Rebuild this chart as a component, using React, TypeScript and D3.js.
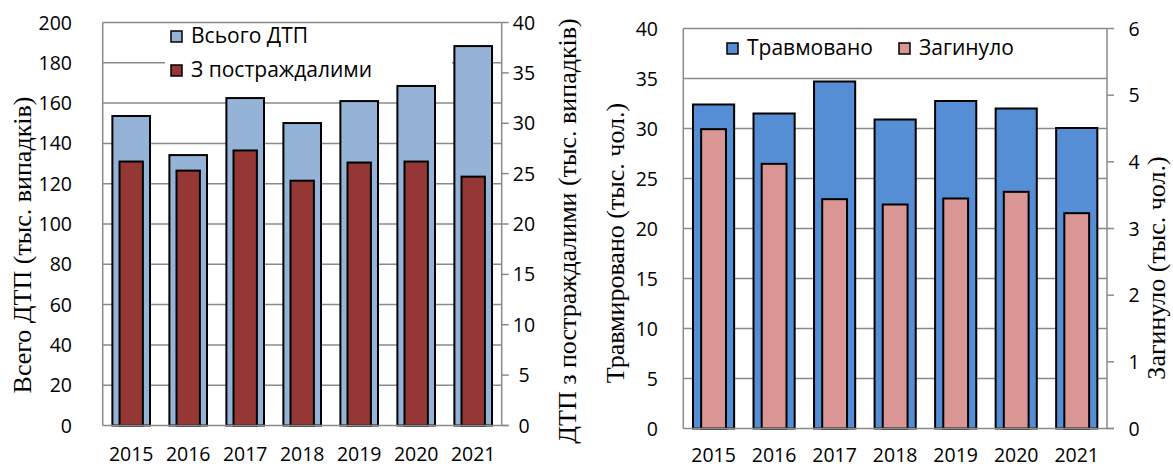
import React from "react";
import * as d3 from "d3";

const years = ["2015", "2016", "2017", "2018", "2019", "2020", "2021"];
const totalDtp = [153.6, 134.2, 162.5, 150.1, 161.0, 168.5, 188.3];
const withVictims = [26.2, 25.3, 27.3, 24.3, 26.1, 26.2, 24.7];
const injured = [32.4, 31.5, 34.7, 30.9, 32.75, 32.0, 30.05];
const killed = [4.49, 3.97, 3.44, 3.36, 3.45, 3.55, 3.23];

const leftTicksA = [0, 20, 40, 60, 80, 100, 120, 140, 160, 180, 200];
const rightTicksA = [0, 5, 10, 15, 20, 25, 30, 35, 40];
const leftTicksB = [0, 5, 10, 15, 20, 25, 30, 35, 40];
const rightTicksB = [0, 1, 2, 3, 4, 5, 6];

const legendA = ["Всього ДТП", "З постраждалими"];
const legendB = ["Травмовано", "Загинуло"];
const titlesA = ["Всего  ДТП (тыс. випадків)", "ДТП з постраждалими (тыс. випадків)"];
const titlesB = ["Травмировано (тыс. чол.)", "Загинуло (тыс. чол.)"];

const SANS = "'Open Sans', sans-serif";
const SERIF = "'Liberation Serif', 'Times New Roman', serif";
const GRID = "#8a8a8a";
const FS = 19.5;
const LFS = 21;
const TFS = 26;

type PanelProps = {
  x0: number; x1: number; yTop: number; yBot: number;
  leftMax: number; rightMax: number;
  leftTicks: number[]; rightTicks: number[];
  back: number[]; front: number[];
  backColor: string; frontColor: string;
  backW: number; frontW: number;
  leftLabelX: number; rightLabelX: number; xLabelY: number;
  titles: string[]; titlePos: number[][];
  legendBg?: number[];
};

function Panel(p: PanelProps) {
  const xs = d3.scaleBand<string>().domain(years).range([p.x0, p.x1]).padding(0);
  const yl = d3.scaleLinear().domain([0, p.leftMax]).range([p.yBot, p.yTop]);
  const yr = d3.scaleLinear().domain([0, p.rightMax]).range([p.yBot, p.yTop]);
  const bw = xs.bandwidth();
  return (
    <g>
      {p.leftTicks.filter((t) => t > 0).map((t) => (
        <line key={"g" + t} x1={p.x0} x2={p.x1} y1={yl(t)} y2={yl(t)} stroke={GRID} strokeWidth={1.5} />
      ))}
      {p.legendBg && (
        <rect x={p.legendBg[0]} y={p.legendBg[1]} width={p.legendBg[2]} height={p.legendBg[3]} fill="#fff" />
      )}
      <line x1={p.x0} x2={p.x0} y1={p.yTop} y2={p.yBot} stroke={GRID} strokeWidth={1.5} />
      <line x1={p.x1} x2={p.x1} y1={p.yTop} y2={p.yBot} stroke={GRID} strokeWidth={1.5} />
      {p.rightTicks.map((t) => (
        <line key={"rt" + t} x1={p.x1} x2={p.x1 + 7} y1={yr(t)} y2={yr(t)} stroke={GRID} strokeWidth={1.5} />
      ))}
      {years.map((y, i) => {
        const c = (xs(y) as number) + bw / 2;
        const w1 = bw * p.backW;
        const w2 = bw * p.frontW;
        return (
          <g key={y}>
            <rect x={c - w1 / 2} y={yl(p.back[i])} width={w1} height={p.yBot - yl(p.back[i])}
              fill={p.backColor} stroke="#000" strokeWidth={2} />
            <rect x={c - w2 / 2} y={yr(p.front[i])} width={w2} height={p.yBot - yr(p.front[i])}
              fill={p.frontColor} stroke="#000" strokeWidth={2} />
          </g>
        );
      })}
      <line x1={p.x0} x2={p.x1 + 7} y1={p.yBot} y2={p.yBot} stroke={GRID} strokeWidth={1.5} />
      {p.leftTicks.map((t) => (
        <text key={"ll" + t} x={p.leftLabelX} y={yl(t)} dy="0.36em" textAnchor="end"
          fontFamily={SANS} fontSize={FS} fill="#000">{t}</text>
      ))}
      {p.rightTicks.map((t) => (
        <text key={"rl" + t} x={p.rightLabelX} y={yr(t)} dy="0.36em" textAnchor="middle"
          fontFamily={SANS} fontSize={FS} fill="#000">{t}</text>
      ))}
      {years.map((y) => (
        <text key={"xl" + y} x={(xs(y) as number) + bw / 2} y={p.xLabelY} textAnchor="middle"
          fontFamily={SANS} fontSize={FS} fill="#000">{y}</text>
      ))}
      {p.titles.map((t, i) => (
        <text key={"t" + i} transform={`translate(${p.titlePos[i][0]},${p.titlePos[i][1]}) rotate(-90)`}
          dy="0.33em" textAnchor="middle" fontFamily={SERIF} fontSize={TFS} fill="#000">{t}</text>
      ))}
    </g>
  );
}

function LegendItem({ x, y, color, label }: { x: number; y: number; color: string; label: string }) {
  return (
    <g>
      <rect x={x} y={y - 12} width={11} height={11} fill={color} stroke="#000" strokeWidth={1.5} />
      <text x={x + 20} y={y} fontFamily={SANS} fontSize={LFS} fill="#000">{label}</text>
    </g>
  );
}

export default function App() {
  return (
    <svg width={1173} height={468} style={{ position: "absolute", left: 0, top: 0, background: "#fff" }}>
      <rect x={0} y={0} width={1173} height={468} fill="#fff" />
      <Panel x0={102.7} x1={501.7} yTop={22.5} yBot={425.5} leftMax={200} rightMax={40}
        leftTicks={leftTicksA} rightTicks={rightTicksA} back={totalDtp} front={withVictims}
        backColor="#95B3D7" frontColor="#953735" backW={0.66} frontW={0.41}
        leftLabelX={72} rightLabelX={524} xLabelY={461}
        titles={titlesA} titlePos={[[22, 245], [567, 231]]}
        legendBg={[165, 27, 287, 58]} />
      <LegendItem x={171} y={43} color="#95B3D7" label={legendA[0]} />
      <LegendItem x={171} y={77} color="#953735" label={legendA[1]} />
      <Panel x0={683.3} x1={1107} yTop={28.5} yBot={428.5} leftMax={40} rightMax={6}
        leftTicks={leftTicksB} rightTicks={rightTicksB} back={injured} front={killed}
        backColor="#558ED5" frontColor="#D99694" backW={0.68} frontW={0.41}
        leftLabelX={658} rightLabelX={1134} xLabelY={462}
        titles={titlesB} titlePos={[[615, 243], [1156, 268]]} />
      <LegendItem x={727} y={55} color="#558ED5" label={legendB[0]} />
      <LegendItem x={899} y={55} color="#D99694" label={legendB[1]} />
    </svg>
  );
}
